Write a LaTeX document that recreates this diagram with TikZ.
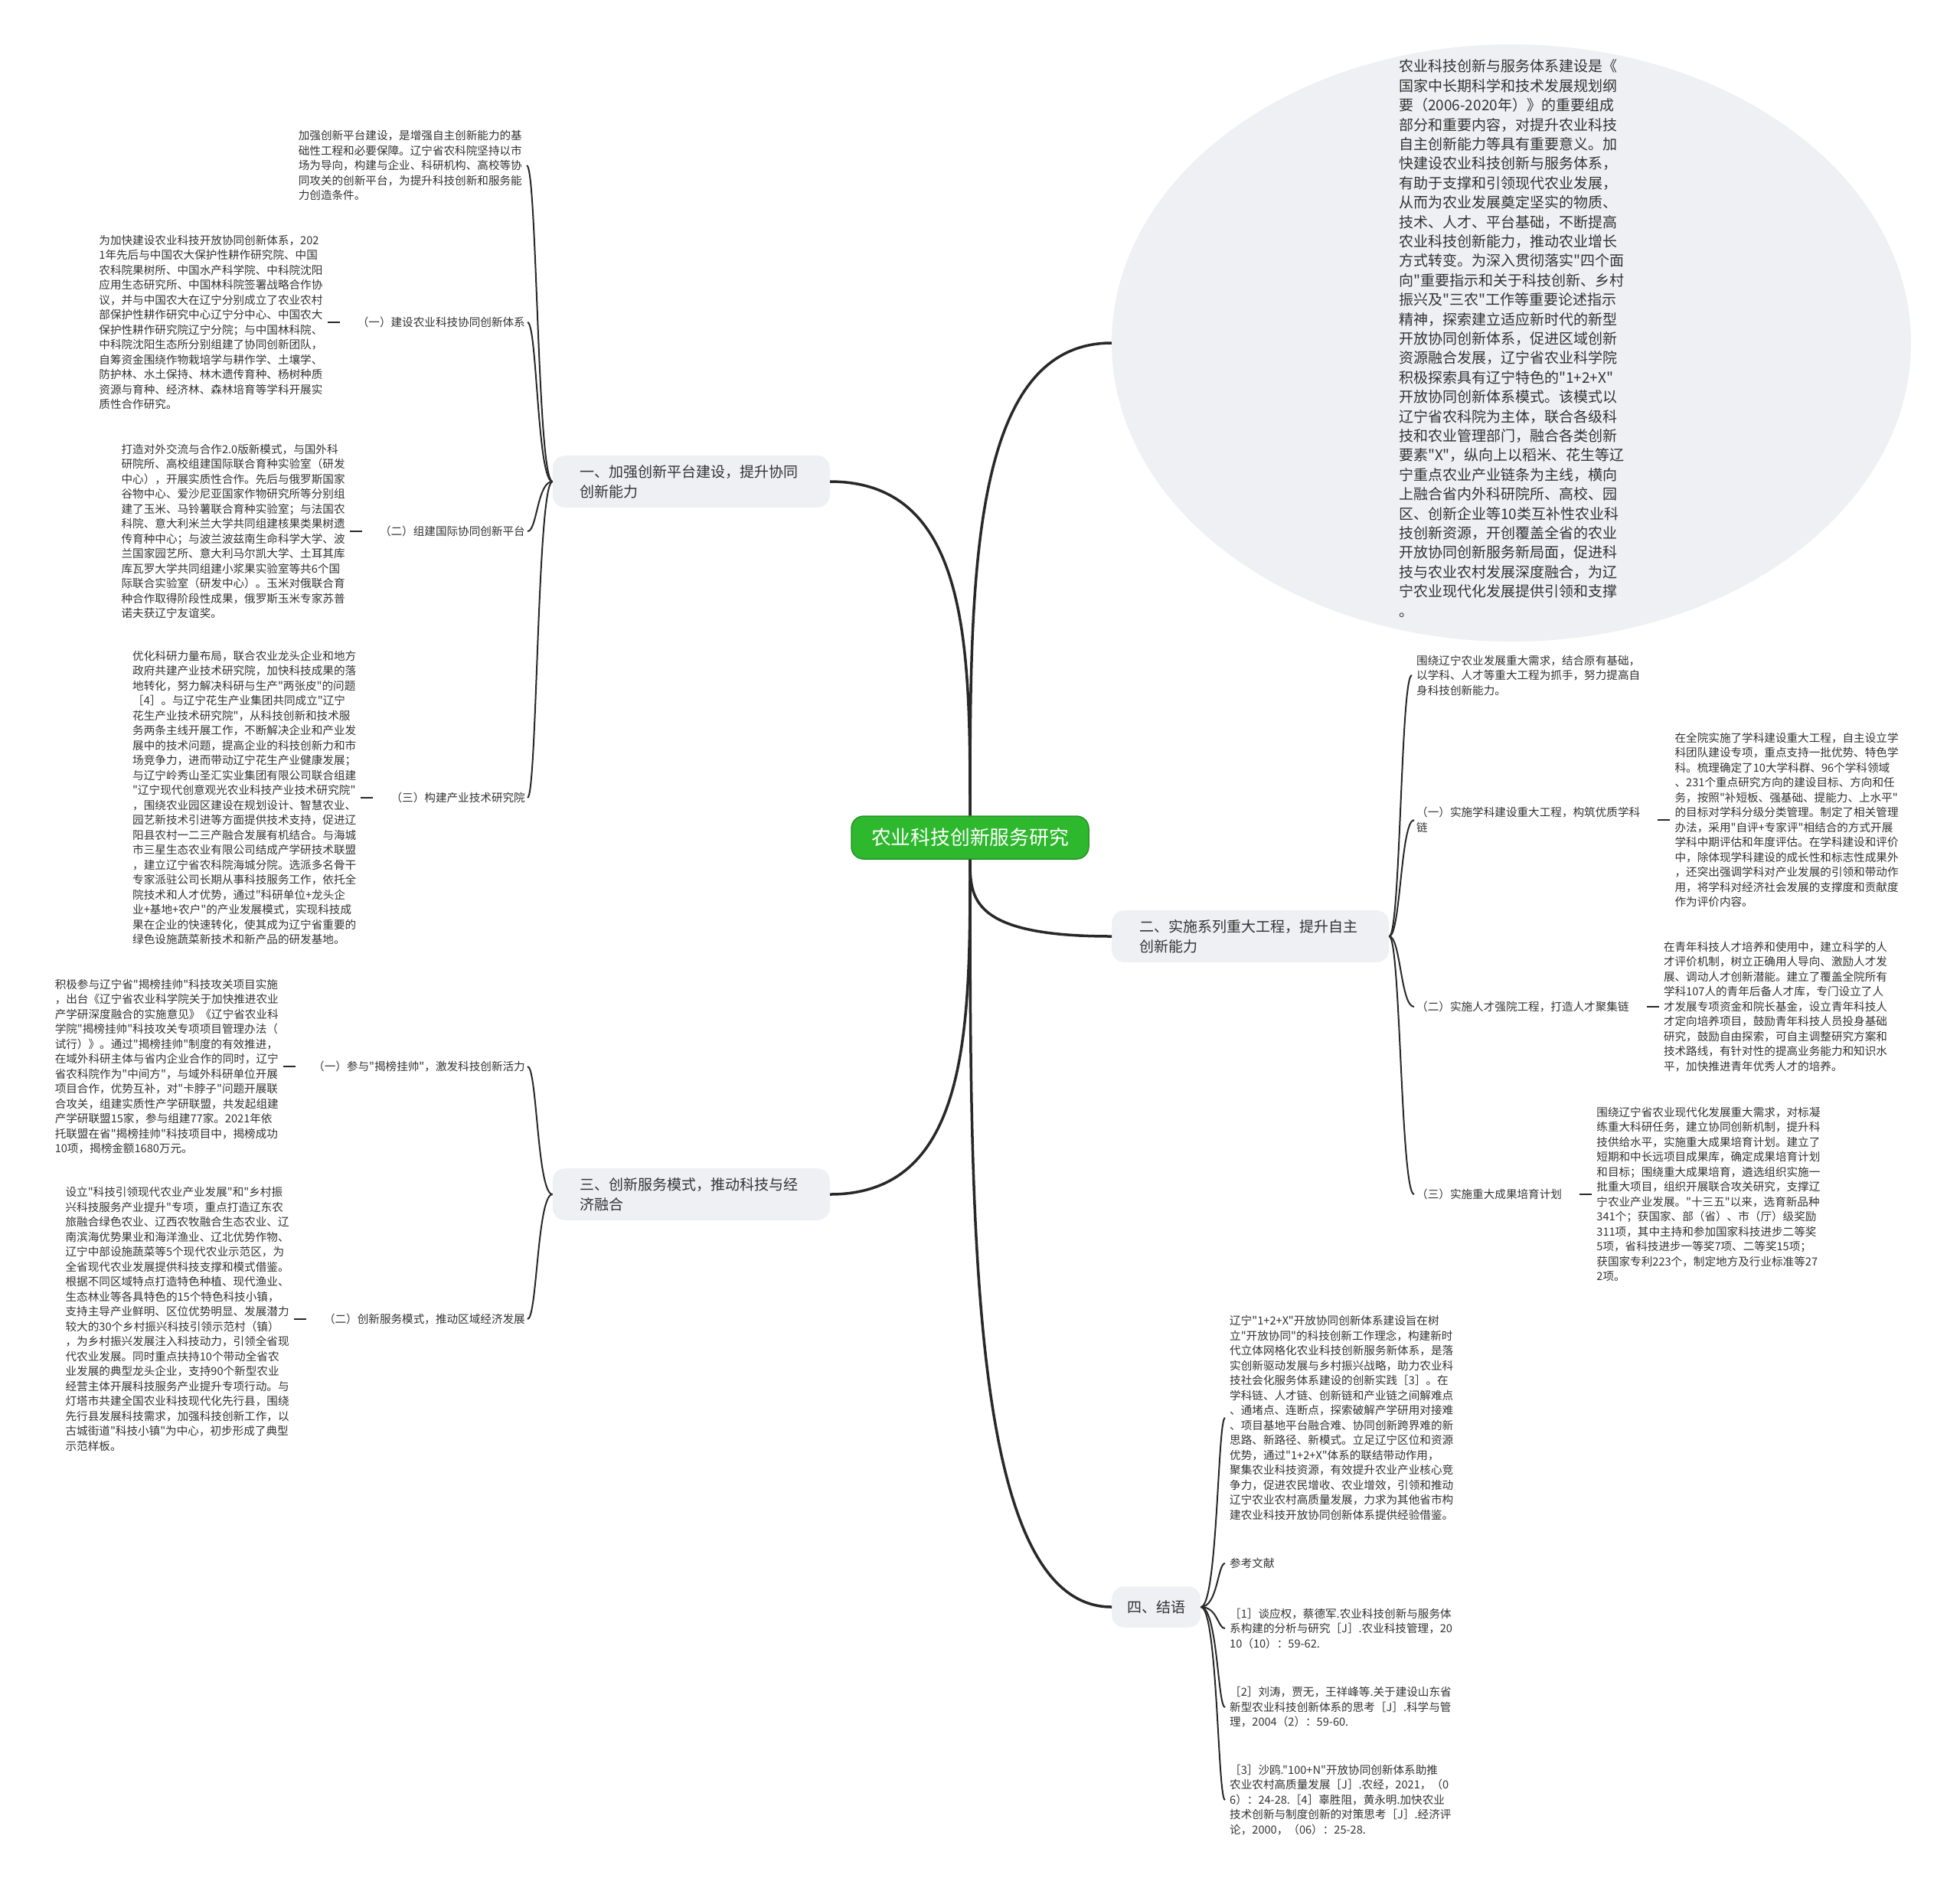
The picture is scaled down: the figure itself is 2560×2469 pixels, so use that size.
\documentclass[tikz,border=0pt]{standalone}
\usepackage{fontspec}
\setmainfont{Noto Sans CJK SC}[Ligatures=TeXOff]
\usetikzlibrary{positioning,calc,shapes.geometric}
\definecolor{RootGreen}{RGB}{46,184,46}
\definecolor{TopicFill}{RGB}{238,240,243}
\definecolor{LineDark}{RGB}{40,40,40}
\definecolor{TextDark}{RGB}{51,51,51}

\begin{document}
\begin{tikzpicture}[
    x=1pt, y=-1pt,
    node distance=36pt,
    root/.style={rectangle, rounded corners=16pt, fill=RootGreen, draw=RootGreen!80!black,
        line width=1.5pt, inner xsep=26pt, inner ysep=16pt, font=\fontsize{25.8}{30}\selectfont, text=white},
    topic/.style={rectangle, rounded corners=16pt, fill=TopicFill, text width=290pt, inner xsep=36pt,
        inner ysep=12pt, align=left, font=\fontsize{19}{26}\selectfont, text=TextDark},
    note/.style={ellipse, fill=TopicFill, minimum width=1044pt, minimum height=780pt},
    introtext/.style={inner sep=3pt, align=left, font=\fontsize{19}{25.4}\selectfont, text=TextDark},
    sub/.style={inner xsep=3pt, inner ysep=2pt, align=left, font=\fontsize{14.6}{19.5}\selectfont, text=TextDark},
    leaf/.style={sub, inner xsep=6pt},
    link/.style={line width=3.5pt, draw=LineDark},
    twig/.style={line width=2pt, draw=LineDark},
    stub/.style={twig, shorten >=20pt},
]
\fill[white] (0,0) rectangle (2560,2469);
\useasboundingbox (0,0) rectangle (2560,2469);

\node[root] (root) at (1267,1094) {农业科技创新服务研究};

\node[note] (intro) at (1974,448) {};
\node[introtext, anchor=west] (introtxt) at (1824,442) {农业科技创新与服务体系建设是《\\
国家中长期科学和技术发展规划纲\\
要（2006-2020年）》的重要组成\\
部分和重要内容，对提升农业科技\\
自主创新能力等具有重要意义。加\\
快建设农业科技创新与服务体系，\\
有助于支撑和引领现代农业发展，\\
从而为农业发展奠定坚实的物质、\\
技术、人才、平台基础，不断提高\\
农业科技创新能力，推动农业增长\\
方式转变。为深入贯彻落实"四个面\\
向"重要指示和关于科技创新、乡村\\
振兴及"三农"工作等重要论述指示\\
精神，探索建立适应新时代的新型\\
开放协同创新体系，促进区域创新\\
资源融合发展，辽宁省农业科学院\\
积极探索具有辽宁特色的"1+2+X"\\
开放协同创新体系模式。该模式以\\
辽宁省农科院为主体，联合各级科\\
技和农业管理部门，融合各类创新\\
要素"X"，纵向上以稻米、花生等辽\\
宁重点农业产业链条为主线，横向\\
上融合省内外科研院所、高校、园\\
区、创新企业等10类互补性农业科\\
技创新资源，开创覆盖全省的农业\\
开放协同创新服务新局面，促进科\\
技与农业农村发展深度融合，为辽\\
宁农业现代化发展提供引领和支撑\\
。};

\node[topic, anchor=east] (plat) at (1084,629) {一、加强创新平台建设，提升协同\\创新能力};
\node[topic, anchor=east] (serv) at (1084,1560) {三、创新服务模式，推动科技与经\\济融合};
\node[topic, anchor=west] (proj) at (1452,1223) {二、实施系列重大工程，提升自主\\创新能力};
\node[topic, text width=76pt, inner xsep=20pt, inner ysep=18pt, anchor=west] (concl) at (1452,2099) {四、结语};

% 一、加强创新平台建设
\node[leaf, anchor=east] (p0) at (688,216) {加强创新平台建设，是增强自主创新能力的基\\
础性工程和必要保障。辽宁省农科院坚持以市\\
场为导向，构建与企业、科研机构、高校等协\\
同攻关的创新平台，为提升科技创新和服务能\\
力创造条件。};
\node[sub, anchor=east] (p1) at (689,421) {（一）建设农业科技协同创新体系};
\node[leaf, left=of p1] (p1t) {为加快建设农业科技开放协同创新体系，202\\
1年先后与中国农大保护性耕作研究院、中国\\
农科院果树所、中国水产科学院、中科院沈阳\\
应用生态研究所、中国林科院签署战略合作协\\
议，并与中国农大在辽宁分别成立了农业农村\\
部保护性耕作研究中心辽宁分中心、中国农大\\
保护性耕作研究院辽宁分院；与中国林科院、\\
中科院沈阳生态所分别组建了协同创新团队，\\
自筹资金围绕作物栽培学与耕作学、土壤学、\\
防护林、水土保持、林木遗传育种、杨树种质\\
资源与育种、经济林、森林培育等学科开展实\\
质性合作研究。};
\node[sub, anchor=east] (p2) at (689,694) {（二）组建国际协同创新平台};
\node[leaf, left=of p2] (p2t) {打造对外交流与合作2.0版新模式，与国外科\\
研院所、高校组建国际联合育种实验室（研发\\
中心），开展实质性合作。先后与俄罗斯国家\\
谷物中心、爱沙尼亚国家作物研究所等分别组\\
建了玉米、马铃薯联合育种实验室；与法国农\\
科院、意大利米兰大学共同组建核果类果树遗\\
传育种中心；与波兰波兹南生命科学大学、波\\
兰国家园艺所、意大利马尔凯大学、土耳其库\\
库瓦罗大学共同组建小浆果实验室等共6个国\\
际联合实验室（研发中心）。玉米对俄联合育\\
种合作取得阶段性成果，俄罗斯玉米专家苏普\\
诺夫获辽宁友谊奖。};
\node[sub, anchor=east] (p3) at (689,1042) {（三）构建产业技术研究院};
\node[leaf, left=of p3] (p3t) {优化科研力量布局，联合农业龙头企业和地方\\
政府共建产业技术研究院，加快科技成果的落\\
地转化，努力解决科研与生产"两张皮"的问题\\
［4］。与辽宁花生产业集团共同成立"辽宁\\
花生产业技术研究院"，从科技创新和技术服\\
务两条主线开展工作，不断解决企业和产业发\\
展中的技术问题，提高企业的科技创新力和市\\
场竞争力，进而带动辽宁花生产业健康发展；\\
与辽宁岭秀山圣汇实业集团有限公司联合组建\\
"辽宁现代创意观光农业科技产业技术研究院"\\
，围绕农业园区建设在规划设计、智慧农业、\\
园艺新技术引进等方面提供技术支持，促进辽\\
阳县农村一二三产融合发展有机结合。与海城\\
市三星生态农业有限公司结成产学研技术联盟\\
，建立辽宁省农科院海城分院。选派多名骨干\\
专家派驻公司长期从事科技服务工作，依托全\\
院技术和人才优势，通过"科研单位+龙头企\\
业+基地+农户"的产业发展模式，实现科技成\\
果在企业的快速转化，使其成为辽宁省重要的\\
绿色设施蔬菜新技术和新产品的研发基地。};

% 三、创新服务模式
\node[sub, anchor=east] (s1) at (689,1393) {（一）参与"揭榜挂帅"，激发科技创新活力};
\node[leaf, left=of s1] (s1t) {积极参与辽宁省"揭榜挂帅"科技攻关项目实施\\
，出台《辽宁省农业科学院关于加快推进农业\\
产学研深度融合的实施意见》《辽宁省农业科\\
学院"揭榜挂帅"科技攻关专项项目管理办法（\\
试行）》。通过"揭榜挂帅"制度的有效推进，\\
在域外科研主体与省内企业合作的同时，辽宁\\
省农科院作为"中间方"，与域外科研单位开展\\
项目合作，优势互补，对"卡脖子"问题开展联\\
合攻关，组建实质性产学研联盟，共发起组建\\
产学研联盟15家，参与组建77家。2021年依\\
托联盟在省"揭榜挂帅"科技项目中，揭榜成功\\
10项，揭榜金额1680万元。};
\node[sub, anchor=east] (s2) at (689,1723) {（二）创新服务模式，推动区域经济发展};
\node[leaf, left=of s2] (s2t) {设立"科技引领现代农业产业发展"和"乡村振\\
兴科技服务产业提升"专项，重点打造辽东农\\
旅融合绿色农业、辽西农牧融合生态农业、辽\\
南滨海优势果业和海洋渔业、辽北优势作物、\\
辽宁中部设施蔬菜等5个现代农业示范区，为\\
全省现代农业发展提供科技支撑和模式借鉴。\\
根据不同区域特点打造特色种植、现代渔业、\\
生态林业等各具特色的15个特色科技小镇，\\
支持主导产业鲜明、区位优势明显、发展潜力\\
较大的30个乡村振兴科技引领示范村（镇）\\
，为乡村振兴发展注入科技动力，引领全省现\\
代农业发展。同时重点扶持10个带动全省农\\
业发展的典型龙头企业，支持90个新型农业\\
经营主体开展科技服务产业提升专项行动。与\\
灯塔市共建全国农业科技现代化先行县，围绕\\
先行县发展科技需求，加强科技创新工作，以\\
古城街道"科技小镇"为中心，初步形成了典型\\
示范样板。};

% 二、实施系列重大工程
\node[leaf, anchor=west] (g0) at (1844,882) {围绕辽宁农业发展重大需求，结合原有基础，\\
以学科、人才等重大工程为抓手，努力提高自\\
身科技创新能力。};
\node[sub, anchor=west] (g1) at (1847,1071) {（一）实施学科建设重大工程，构筑优质学科\\链};
\node[leaf, right=of g1] (g1t) {在全院实施了学科建设重大工程，自主设立学\\
科团队建设专项，重点支持一批优势、特色学\\
科。梳理确定了10大学科群、96个学科领域\\
、231个重点研究方向的建设目标、方向和任\\
务，按照"补短板、强基础、提能力、上水平"\\
的目标对学科分级分类管理。制定了相关管理\\
办法，采用"自评+专家评"相结合的方式开展\\
学科中期评估和年度评估。在学科建设和评价\\
中，除体现学科建设的成长性和标志性成果外\\
，还突出强调学科对产业发展的引领和带动作\\
用，将学科对经济社会发展的支撑度和贡献度\\
作为评价内容。};
\node[sub, anchor=west] (g2) at (1847,1315) {（二）实施人才强院工程，打造人才聚集链};
\node[leaf, right=of g2] (g2t) {在青年科技人才培养和使用中，建立科学的人\\
才评价机制，树立正确用人导向、激励人才发\\
展、调动人才创新潜能。建立了覆盖全院所有\\
学科107人的青年后备人才库，专门设立了人\\
才发展专项资金和院长基金，设立青年科技人\\
才定向培养项目，鼓励青年科技人员投身基础\\
研究，鼓励自由探索，可自主调整研究方案和\\
技术路线，有针对性的提高业务能力和知识水\\
平，加快推进青年优秀人才的培养。};
\node[sub, anchor=west] (g3) at (1847,1560) {（三）实施重大成果培育计划};
\node[leaf, right=of g3] (g3t) {围绕辽宁省农业现代化发展重大需求，对标凝\\
练重大科研任务，建立协同创新机制，提升科\\
技供给水平，实施重大成果培育计划。建立了\\
短期和中长远项目成果库，确定成果培育计划\\
和目标；围绕重大成果培育，遴选组织实施一\\
批重大项目，组织开展联合攻关研究，支撑辽\\
宁农业产业发展。"十三五"以来，选育新品种\\
341个；获国家、部（省）、市（厅）级奖励\\
311项，其中主持和参加国家科技进步二等奖\\
5项，省科技进步一等奖7项、二等奖15项；\\
获国家专利223个，制定地方及行业标准等27\\
2项。};

% 四、结语
\node[leaf, anchor=west] (c1) at (1600,1852) {辽宁"1+2+X"开放协同创新体系建设旨在树\\
立"开放协同"的科技创新工作理念，构建新时\\
代立体网格化农业科技创新服务新体系，是落\\
实创新驱动发展与乡村振兴战略，助力农业科\\
技社会化服务体系建设的创新实践［3］。在\\
学科链、人才链、创新链和产业链之间解难点\\
、通堵点、连断点，探索破解产学研用对接难\\
、项目基地平台融合难、协同创新跨界难的新\\
思路、新路径、新模式。立足辽宁区位和资源\\
优势，通过"1+2+X"体系的联结带动作用，\\
聚集农业科技资源，有效提升农业产业核心竞\\
争力，促进农民增收、农业增效，引领和推动\\
辽宁农业农村高质量发展，力求为其他省市构\\
建农业科技开放协同创新体系提供经验借鉴。};
\node[leaf, anchor=west] (c2) at (1600,2042) {参考文献};
\node[leaf, anchor=west] (c3) at (1600,2127) {［1］谈应权，蔡德军.农业科技创新与服务体\\
系构建的分析与研究［J］.农业科技管理，20\\
10（10）：59-62.};
\node[leaf, anchor=west] (c4) at (1600,2230) {［2］刘涛，贾无，王祥峰等.关于建设山东省\\
新型农业科技创新体系的思考［J］.科学与管\\
理，2004（2）：59-60.};
\node[leaf, anchor=west] (c5) at (1600,2351) {［3］沙鸥."100+N"开放协同创新体系助推\\
农业农村高质量发展［J］.农经，2021，（0\\
6）：24-28.［4］辜胜阻，黄永明.加快农业\\
技术创新与制度创新的对策思考［J］.经济评\\
论，2000，（06）：25-28.};

% connectors from the root
\draw[link] (root.north) .. controls ($(root.north)!0.5!(root.north |- intro.west)$) and (root.north |- intro.west) .. (intro.west);
\draw[link] (root.north) .. controls ($(root.north)!0.5!(root.north |- plat.east)$) and (root.north |- plat.east) .. (plat.east);
\draw[link] (root.south) .. controls ($(root.south)!0.5!(root.south |- proj.west)$) and (root.south |- proj.west) .. (proj.west);
\draw[link] (root.south) .. controls ($(root.south)!0.5!(root.south |- serv.east)$) and (root.south |- serv.east) .. (serv.east);
\draw[link] (root.south) .. controls ($(root.south)!0.5!(root.south |- concl.west)$) and (root.south |- concl.west) .. (concl.west);

% branch connectors
\coordinate (kp) at ($(plat.west)+(-20,0)$);
\foreach \n in {p0,p1,p2,p3}
    \draw[twig] (plat.west) .. controls (kp) and (kp |- \n.east) .. (\n.east);
\coordinate (ks) at ($(serv.west)+(-20,0)$);
\foreach \n in {s1,s2}
    \draw[twig] (serv.west) .. controls (ks) and (ks |- \n.east) .. (\n.east);
\coordinate (kg) at ($(proj.east)+(15,0)$);
\foreach \n in {g0,g1,g2,g3}
    \draw[twig] (proj.east) .. controls (kg) and (kg |- \n.west) .. (\n.west);
\coordinate (kc) at ($(concl.east)+(22,0)$);
\foreach \n in {c1,c2,c3,c4,c5}
    \draw[twig] (concl.east) .. controls (kc) and (kc |- \n.west) .. (\n.west);

\foreach \a/\b in {p1/p1t,p2/p2t,p3/p3t,s1/s1t,s2/s2t}
    \draw[stub] (\b.east) -- (\a.west);
\foreach \a/\b in {g1/g1t,g2/g2t,g3/g3t}
    \draw[stub] (\b.west) -- (\a.east);
\end{tikzpicture}
\end{document}
